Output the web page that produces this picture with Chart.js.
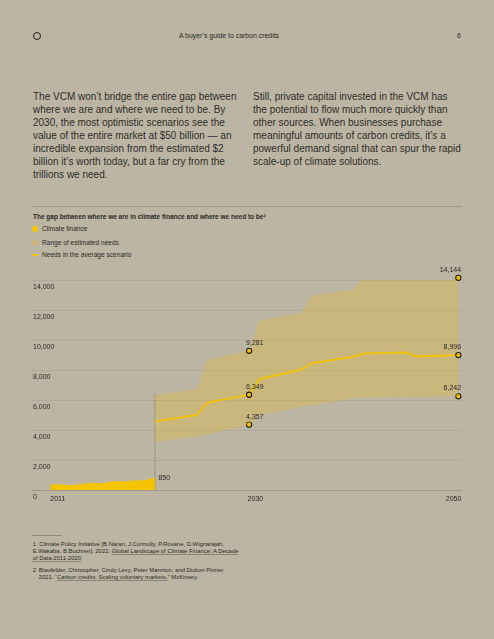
<!DOCTYPE html>
<html>
<head>
<meta charset="utf-8">
<script src="https://cdn.jsdelivr.net/npm/chart.js@4.4.1/dist/chart.umd.min.js"></script>
<style>
  html, body { margin: 0; padding: 0; }
  body {
    width: 494px; height: 639px; position: relative; overflow: hidden;
    background: #bdb5a3; color: #2a2926;
    font-family: "Liberation Sans", Arial, sans-serif;
  }
  .abs { position: absolute; white-space: nowrap; }
  .logo { left: 32.5px; top: 31.8px; width: 6px; height: 6px; border: 1.5px solid #1d1c1a; border-radius: 50%; }
  .hdr { font-size: 6.9px; line-height: 8px; top: 32.3px; }
  .para { font-size: 10px; line-height: 13px; top: 89.5px; color: #2e2d2a; }
  .rule { height: 1px; background: #a29b8a; }
  .title { left: 33px; top: 212px; font-size: 6.5px; line-height: 8px; font-weight: bold; }
  .title sup { font-size: 4px; vertical-align: 2px; }
  .leg { left: 42px; font-size: 6.6px; line-height: 8px; }
  .dot { width: 6px; height: 6px; border-radius: 3px; left: 32.2px; }
  .fn { font-size: 5.9px; line-height: 7px; }
  .fn u { text-decoration-color: #8a8474; }
  #wrap { position: absolute; left: 0; top: 260px; width: 494px; height: 250px; }
</style>
</head>
<body>
<div class="abs logo"></div>
<div class="abs hdr" style="left:0;width:458px;text-align:center;">A buyer’s guide to carbon credits</div>
<div class="abs hdr" style="left:457px;">6</div>

<div class="abs para" style="left:33px;">The VCM won’t bridge the entire gap between<br>where we are and where we need to be. By<br>2030, the most optimistic scenarios see the<br>value of the entire market at $50 billion — an<br>incredible expansion from the estimated $2<br>billion it’s worth today, but a far cry from the<br>trillions we need.</div>
<div class="abs para" style="left:253px;">Still, private capital invested in the VCM has<br>the potential to flow much more quickly than<br>other sources. When businesses purchase<br>meaningful amounts of carbon credits, it’s a<br>powerful demand signal that can spur the rapid<br>scale-up of climate solutions.</div>

<div class="abs rule" style="left:32px;top:206px;width:430px;"></div>
<div class="abs title">The gap between where we are in climate finance and where we need to be<sup>2</sup></div>
<div class="abs dot" style="top:226.3px;background:#f5c400;"></div>
<div class="abs leg" style="top:225.3px;">Climate finance</div>
<div class="abs dot" style="top:239.7px;background:#cbb67a;"></div>
<div class="abs leg" style="top:238.7px;">Range of estimated needs</div>
<div class="abs" style="left:32px;top:254px;width:6px;height:2px;background:#f5c400;"></div>
<div class="abs leg" style="top:251px;">Needs in the average scenario</div>

<div id="wrap"><canvas id="gap"></canvas></div>

<div class="abs rule" style="left:32px;top:534.5px;width:30px;background:#8f8878;"></div>
<div class="abs fn" style="left:32.7px;top:540.8px;">1&nbsp;&nbsp;Climate Policy Initiative [B.Naran, J.Connolly, P.Rosane, D.Wignarajah,<br>E.Wakaba, B.Buchner]. 2022. <u>Global Landscape of Climate Finance: A Decade</u><br><u>of Data 2011-2020</u></div>
<div class="abs fn" style="left:32.7px;top:567.2px;">2</div>
<div class="abs fn" style="left:38.7px;top:567.2px;">Blaufelder, Christopher, Cindy Levy, Peter Mannion, and Dickon Pinner.<br>2021. “<u>Carbon credits: Scaling voluntary markets.</u>” McKinsey.</div>

<script>
// climate finance, USD bn (2011 - 2021)
const financeYears = [2011, 2012, 2013, 2014, 2015, 2016, 2017, 2018, 2019, 2020, 2021];
const financeValues = [360, 365, 340, 400, 480, 450, 600, 560, 630, 650, 850];

// estimated needs, USD bn
const needYears = [2021, 2025, 2026, 2030, 2031, 2035, 2036, 2040, 2041, 2045, 2046, 2050];
const needLow  = [3222, 3556, 3716, 4357, 5000, 5556, 5650, 6111, 6150, 6200, 6210, 6242];
const needAvg  = [4556, 5000, 5822, 6349, 7400, 8044, 8444, 8889, 9111, 9178, 8900, 8996];
const needHigh = [6333, 6711, 8667, 9281, 11289, 11822, 12933, 13378, 14280, 14280, 14130, 14144];

const markYears = [2030, 2050];
const xTickYears = [2011, 2030, 2050];
const yTicks = [0, 2000, 4000, 6000, 8000, 10000, 12000, 14000];

const YELLOW = '#f5c400';
const INK = '#2a2926';
const fmt = v => v.toLocaleString('en-US');
const toPts = (xs, ys) => xs.map((x, i) => ({ x, y: ys[i] }));

const markRadius = ctx => (ctx.raw && markYears.includes(ctx.raw.x) ? 2.6 : 0);
const markerStyle = {
  pointRadius: markRadius,
  pointHoverRadius: markRadius,
  pointBackgroundColor: YELLOW,
  pointBorderColor: '#1f1e1b',
  pointBorderWidth: 1.1
};

// value labels next to the marked points and at the end of the finance area
const valueLabels = {
  id: 'valueLabels',
  afterDatasetsDraw(chart) {
    const ctx = chart.ctx;
    ctx.save();
    ctx.font = '7px "Liberation Sans", Arial, sans-serif';
    ctx.fillStyle = INK;
    ctx.textBaseline = 'middle';
    chart.data.datasets.forEach((ds, di) => {
      if (!ds.labelMode) return;
      const meta = chart.getDatasetMeta(di);
      ds.data.forEach((p, i) => {
        const el = meta.data[i];
        if (ds.labelMode === 'last') {
          if (i !== ds.data.length - 1) return;
          ctx.textAlign = 'left';
          ctx.fillText(fmt(p.y), el.x + 3.5, el.y + 0.5);
        } else if (markYears.includes(p.x)) {
          const last = i === ds.data.length - 1;
          ctx.textAlign = last ? 'right' : 'left';
          ctx.fillText(fmt(p.y), last ? el.x + 2.8 : el.x - 3, el.y - 8);
        }
      });
    });
    ctx.restore();
  }
};

// year labels under the baseline
const yearLabels = {
  id: 'yearLabels',
  afterDraw(chart) {
    const x = chart.scales.x;
    const y0 = chart.scales.y.getPixelForValue(0);
    const ctx = chart.ctx;
    ctx.save();
    ctx.font = '7px "Liberation Sans", Arial, sans-serif';
    ctx.fillStyle = INK;
    ctx.textBaseline = 'middle';
    xTickYears.forEach((yr, i) => {
      const px = x.getPixelForValue(yr);
      if (i === 0) { ctx.textAlign = 'left'; ctx.fillText(String(yr), px, y0 + 9.5); }
      else if (i === xTickYears.length - 1) { ctx.textAlign = 'right'; ctx.fillText(String(yr), px + 3, y0 + 9.5); }
      else { ctx.textAlign = 'left'; ctx.fillText(String(yr), px - 1.5, y0 + 9.5); }
    });
    ctx.restore();
  }
};

new Chart(document.getElementById('gap'), {
  type: 'line',
  data: {
    datasets: [
      {
        label: 'Climate finance',
        data: toPts(financeYears, financeValues),
        borderWidth: 0,
        borderColor: YELLOW,
        backgroundColor: YELLOW,
        fill: 'origin',
        pointRadius: 0,
        labelMode: 'last',
        order: 3
      },
      {
        label: 'divider',
        data: [{ x: needYears[0], y: 0 }, { x: needYears[0], y: needHigh[0] }],
        borderColor: '#77726a',
        borderWidth: 1,
        borderDash: [1.2, 1.2],
        pointRadius: 0,
        fill: false,
        order: 4
      },
      {
        label: 'Range high',
        data: toPts(needYears, needHigh),
        borderWidth: 0,
        borderColor: 'rgba(0,0,0,0)',
        backgroundColor: 'rgba(226,188,46,0.32)',
        fill: '+1',
        labelMode: 'marks',
        order: 2,
        ...markerStyle
      },
      {
        label: 'Range low',
        data: toPts(needYears, needLow),
        borderWidth: 0,
        borderColor: 'rgba(0,0,0,0)',
        fill: false,
        labelMode: 'marks',
        order: 2,
        ...markerStyle
      },
      {
        label: 'Needs in the average scenario',
        data: toPts(needYears, needAvg),
        borderColor: YELLOW,
        borderWidth: 1.8,
        fill: false,
        labelMode: 'marks',
        order: 1,
        ...markerStyle
      }
    ]
  },
  options: {
    responsive: true,
    maintainAspectRatio: false,
    animation: false,
    events: [],
    clip: false,
    layout: { padding: { left: 32, right: 32, top: 20, bottom: 20 } },
    elements: { line: { tension: 0 } },
    plugins: { legend: { display: false }, tooltip: { enabled: false } },
    scales: {
      x: {
        type: 'linear',
        display: false,
        min: 2009.25,
        max: 2050.35
      },
      y: {
        min: 0,
        max: 14000,
        afterFit: s => { s.width = 0; },
        afterBuildTicks: s => { s.ticks = yTicks.map(v => ({ value: v })); },
        border: { display: false },
        grid: {
          drawTicks: false,
          lineWidth: 1,
          color: c => (c.tick && c.tick.value === 0 ? '#a1988a' : 'rgba(150,140,120,0.28)')
        },
        ticks: {
          mirror: true,
          padding: 1,
          labelOffset: 7,
          color: INK,
          font: { family: '"Liberation Sans", Arial, sans-serif', size: 7 },
          callback: v => fmt(v)
        }
      }
    }
  },
  plugins: [valueLabels, yearLabels]
});
</script>
</body>
</html>
